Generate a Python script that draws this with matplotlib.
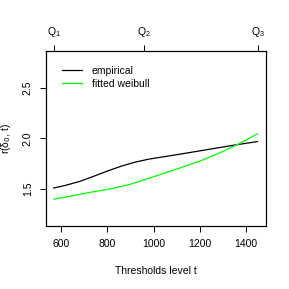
import matplotlib
matplotlib.use("Agg")
import matplotlib.pyplot as plt

plt.rcParams['font.family'] = ['Liberation Sans', 'DejaVu Sans']

# thresholds t
t_emp = [568, 620, 680, 740, 800, 860, 920, 980, 1050, 1150, 1250, 1350, 1450]
r_emp = [1.51, 1.537, 1.575, 1.625, 1.677, 1.725, 1.765, 1.795, 1.82, 1.857, 1.895, 1.933, 1.968]

t_fit = [568, 650, 720, 820, 900, 1005, 1100, 1206, 1300, 1350, 1400, 1450]
r_fit = [1.40, 1.435, 1.465, 1.505, 1.548, 1.625, 1.697, 1.78, 1.87, 1.925, 1.982, 2.045]

q_pos = [568, 960, 1450]
q_labels = ['$\\mathregular{Q_1}$', '$\\mathregular{Q_2}$', '$\\mathregular{Q_3}$']

fig = plt.figure(figsize=(2.89, 2.89), dpi=100)
ax = fig.add_axes([0.158, 0.218, 0.761, 0.607])

ax.plot(t_emp, r_emp, color='black', lw=0.9, label='empirical')
ax.plot(t_fit, r_fit, color='#00ff00', lw=0.9, label='fitted weibull')

ax.set_xlim(533, 1485)
ax.set_ylim(1.136, 2.864)
ax.set_xticks([600, 800, 1000, 1200, 1400])
ax.set_yticks([1.5, 2.0, 2.5])
ax.set_yticklabels(['1.5', '2.0', '2.5'], rotation=90, va='center')
ax.tick_params(length=4.3, width=0.7, labelsize=7.5, pad=5)

for s in ax.spines.values():
    s.set_linewidth(0.8)

top = ax.twiny()
top.set_xlim(ax.get_xlim())
top.set_xticks(q_pos)
top.set_xticklabels(q_labels)
top.tick_params(length=4.3, width=0.7, labelsize=7.5, pad=4)

ax.set_xlabel('Thresholds level t', fontsize=7.5, labelpad=12)
ax.set_ylabel('r(δ$_0$, t)', fontsize=7.5, labelpad=7)

ax.legend(loc='upper left', frameon=False, fontsize=7.5, handlelength=2.0,
          handletextpad=0.9, labelspacing=0.25, bbox_to_anchor=(0.03, 0.965))

fig.savefig('out.png', dpi=100)
